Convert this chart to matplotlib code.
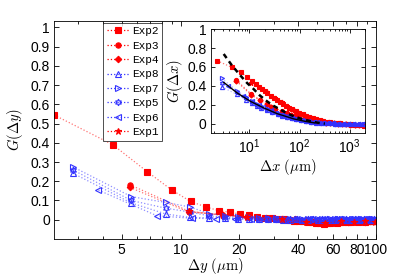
import matplotlib
matplotlib.use("Agg")
import matplotlib.pyplot as plt
from matplotlib.ticker import FixedLocator, NullFormatter, FixedFormatter, LogLocator

plt.rcParams['font.family'] = ['Liberation Sans', 'DejaVu Sans']
plt.rcParams['mathtext.fontset'] = 'cm'

# ---------------- main panel data ----------------
exp2_x = [2.25, 4.5, 6.75, 9.0, 11.25, 13.5, 15.75, 18.0, 20.25, 22.5, 24.75, 27.0, 29.25, 31.5,
          33.75, 36.0, 38.25, 40.5, 42.75, 45.0, 47.25, 49.5, 51.75, 54.0, 56.25, 58.5, 60.75, 63.0,
          65.25, 67.5, 69.75, 72.0, 74.25, 76.5, 78.75, 81.0, 83.25, 85.5, 87.75, 90.0, 92.25, 94.5,
          96.75, 99.0]
exp2_y = [0.545, 0.39, 0.25, 0.155, 0.095, 0.066, 0.047, 0.038, 0.030, 0.024, 0.016, 0.011, 0.007,
          0.004, 0.003, 0.000, -0.004, -0.006, -0.009, -0.012, -0.011, -0.015, -0.018, -0.020, -0.019,
          -0.017, -0.012, -0.015, -0.010, -0.012, -0.008, -0.011, -0.013, -0.008, -0.006, -0.010,
          -0.006, -0.009, -0.011, -0.004, -0.007, -0.009, -0.005, -0.004]
exp34_x = [5.5, 11, 16.5, 22, 27.5, 33, 38.5, 44, 49.5, 55, 60.5, 66, 71.5, 77, 82.5, 88, 93.5, 99]
exp3_y = [0.182, 0.045, 0.022, 0.012, 0.007, 0.003, 0.000, -0.006, -0.010, -0.016, -0.011, -0.008,
          -0.013, -0.006, -0.010, -0.005, -0.009, -0.007]
exp4_y = [0.168, 0.040, 0.026, 0.015, 0.010, 0.005, 0.002, -0.003, -0.008, -0.012, -0.014, -0.006,
          -0.010, -0.009, -0.007, -0.011, -0.004, -0.008]
exp1_x = [11, 22, 33, 44, 55, 66, 77, 88, 99]
exp1_y = [0.043, 0.013, 0.002, -0.011, -0.017, -0.009, -0.012, -0.008, -0.010]

blue_x = [2.8, 5.6, 8.4, 11.2, 14.0, 16.8, 19.6, 22.4, 25.2, 28.0, 30.8, 33.6, 36.4, 39.2, 42.0,
          44.8, 47.6, 50.4, 53.2, 56.0, 58.8, 61.6, 64.4, 67.2, 70.0, 72.8, 75.6, 78.4, 81.2, 84.0,
          86.8, 89.6, 92.4, 95.2, 98.0]
exp8_y = [0.243, 0.087, 0.030, 0.012, 0.010, 0.008, 0.006, 0.004, 0.005, 0.002, 0.003, 0.001, 0.000,
          0.002, -0.001, 0.001, 0.003, -0.002, 0.000, 0.002, -0.001, 0.001, 0.003, 0.000, -0.002,
          0.001, 0.002, -0.001, 0.000, 0.003, 0.001, -0.001, 0.002, 0.000, 0.001]
exp7_y = [0.276, 0.120, 0.090, 0.066, 0.032, 0.022, 0.016, 0.012, 0.010, 0.008, 0.007, 0.005, 0.006,
          0.004, 0.003, 0.005, 0.002, 0.004, 0.003, 0.001, 0.004, 0.002, 0.003, 0.005, 0.002, 0.001,
          0.004, 0.003, 0.002, 0.004, 0.001, 0.003, 0.005, 0.002, 0.003]
exp5_y = [0.260, 0.100, 0.060, 0.040, 0.020, 0.013, 0.009, 0.007, 0.006, 0.004, 0.005, 0.003, 0.002,
          0.004, 0.001, 0.003, 0.002, 0.000, 0.003, 0.002, 0.001, 0.004, 0.000, 0.002, 0.003, 0.001,
          0.000, 0.002, 0.004, 0.001, 0.002, 0.000, 0.003, 0.001, 0.002]
exp6_x = [3.8, 7.6, 11.4, 15.2, 19.0, 22.8, 26.6, 30.4, 34.2, 38.0, 41.8, 45.6, 49.4, 53.2, 57.0,
          60.8, 64.6, 68.4, 72.2, 76.0, 79.8, 83.6, 87.4, 91.2, 95.0, 98.8]
exp6_y = [0.154, 0.020, 0.008, 0.005, 0.004, 0.003, 0.002, 0.004, 0.001, 0.003, 0.000, 0.002, 0.001,
          0.003, 0.000, 0.002, 0.004, 0.001, 0.002, 0.000, 0.003, 0.001, 0.002, 0.004, 0.001, 0.002]

# ---------------- inset data ----------------
in_exp2_x = [2.25, 4.5, 6.75, 9.0, 11.25, 13.5, 15.75, 18.0, 20.25, 22.5, 27.0, 31.5, 36.0, 40.5,
             47.25, 54.0, 63.0, 72.0, 85.5, 99.0, 117.0, 135.0, 157.5, 184.5, 216.0, 252.0, 297.0,
             348.75, 407.25, 475.2, 555.75, 650.25, 760.5, 888.75, 1039.5, 1215.0, 1419.75, 1660.5,
             1941.75]
in_exp2_y = [0.667, 0.595, 0.545, 0.49, 0.45, 0.415, 0.39, 0.365, 0.345, 0.325, 0.295, 0.27, 0.25,
             0.232, 0.21, 0.19, 0.17, 0.152, 0.132, 0.115, 0.098, 0.083, 0.07, 0.057, 0.046, 0.037,
             0.029, 0.022, 0.016, 0.011, 0.007, 0.003, 0.0, -0.004, -0.007, -0.01, -0.013, -0.016,
             -0.02]
in_exp34_x = [5.5, 11, 16.5, 22, 27.5, 33, 44, 55, 66, 82.5, 99, 121, 148.5, 181.5, 220, 269.5, 330,
              401.5, 484, 588.5, 715, 858, 1034, 1254, 1518, 1848]
in_exp3_y = [0.46, 0.31, 0.25, 0.21, 0.18, 0.16, 0.13, 0.11, 0.095, 0.078, 0.065, 0.052, 0.04, 0.03,
             0.022, 0.016, 0.01, 0.006, 0.003, 0.0, -0.003, -0.006, -0.009, -0.012, -0.015, -0.018]
in_exp4_y = [0.45, 0.30, 0.245, 0.205, 0.178, 0.157, 0.128, 0.108, 0.092, 0.076, 0.063, 0.05, 0.039,
             0.029, 0.021, 0.015, 0.009, 0.005, 0.002, -0.001, -0.004, -0.007, -0.01, -0.013, -0.016,
             -0.019]
in_exp1_x = [11, 22, 33, 44, 55, 77, 99, 132, 176, 231, 297, 385, 495, 627, 792, 1001, 1265, 1606, 1991]
in_exp1_y = [0.43, 0.33, 0.27, 0.225, 0.19, 0.145, 0.115, 0.085, 0.06, 0.042, 0.029, 0.018, 0.01,
             0.004, 0.0, -0.005, -0.01, -0.014, -0.018]
in_blue_x = [2.8, 5.6, 8.4, 11.2, 14.0, 16.8, 22.4, 28.0, 36.4, 44.8, 56.0, 70.0, 86.8, 109.2, 134.4,
             168.0, 210.0, 263.2, 327.6, 411.6, 515.2, 644.0, 806.4, 1008.0, 1260.0, 1576.4, 1965.6]
in_exp7_y = [0.48, 0.35, 0.285, 0.24, 0.21, 0.19, 0.158, 0.135, 0.112, 0.094, 0.078, 0.063, 0.050,
             0.039, 0.030, 0.022, 0.015, 0.010, 0.006, 0.004, 0.002, 0.001, -0.001, -0.002, -0.003,
             -0.004, -0.005]
in_exp5_y = [0.43, 0.33, 0.27, 0.23, 0.20, 0.18, 0.15, 0.128, 0.106, 0.089, 0.073, 0.059, 0.047,
             0.036, 0.027, 0.020, 0.014, 0.009, 0.005, 0.003, 0.001, 0.000, -0.002, -0.003, -0.004,
             -0.005, -0.006]
in_exp8_y = [0.39, 0.31, 0.255, 0.22, 0.19, 0.17, 0.142, 0.12, 0.10, 0.084, 0.069, 0.055, 0.044,
             0.034, 0.025, 0.018, 0.012, 0.008, 0.004, 0.002, 0.000, -0.001, -0.003, -0.004, -0.005,
             -0.006, -0.007]
in_exp6_x = [3.8, 7.6, 11.4, 15.2, 19.0, 26.6, 34.2, 45.6, 57.0, 72.2, 91.2, 114.0, 144.4, 182.4,
             228.0, 288.8, 364.8, 460.0, 581.4, 733.4, 923.4, 1162.8, 1463.0, 1843.0]
in_exp6_y = [0.40, 0.29, 0.235, 0.20, 0.175, 0.14, 0.115, 0.092, 0.076, 0.06, 0.047, 0.036, 0.027,
             0.019, 0.013, 0.008, 0.005, 0.002, 0.000, -0.001, -0.002, -0.003, -0.004, -0.005]
fit_dash_x = [3.07, 4.5, 6.6, 9, 12.2, 16, 22.5, 30, 41.7, 56, 77, 110, 166, 230, 320]
fit_dash_y = [0.737, 0.615, 0.51, 0.43, 0.365, 0.30, 0.236, 0.19, 0.148, 0.11, 0.078, 0.05, 0.025,
              0.01, 0.0]
fit_solid_x = [3.07, 5.7, 10.5, 19.4, 35.7, 77, 130, 200]
fit_solid_y = [0.437, 0.325, 0.236, 0.166, 0.106, 0.05, 0.024, 0.008]

labels = ['Exp2', 'Exp3', 'Exp4', 'Exp8', 'Exp7', 'Exp5', 'Exp6', 'Exp1']
xticks_main = [5, 10, 20, 40, 60, 80, 100]
yticks_main = [0, 0.1, 0.2, 0.3, 0.4, 0.5, 0.6, 0.7, 0.8, 0.9, 1]
yticks_inset = [0, 0.2, 0.4, 0.6, 0.8, 1]

RED = '#ff0000'
BLUE = '#3333ff'
hexa = (6, 1, 0)

fig = plt.figure(figsize=(4.15, 2.75), dpi=100)
ax = fig.add_axes([0.130, 0.131, 0.776, 0.794])

line_kw = dict(linestyle=':', linewidth=0.9)


def series(a, x, y, color, marker, ms, filled, label=None, alpha_line=0.55):
    a.plot(x, y, color=color, alpha=alpha_line, **line_kw)
    a.plot(x, y, linestyle='none', marker=marker, markersize=ms,
           markerfacecolor=color if filled else 'none', markeredgecolor=color,
           markeredgewidth=0.8)
    if label is not None:
        a.plot([], [], color=color, linestyle=':', linewidth=0.9, marker=marker, markersize=ms,
               markerfacecolor=color if filled else 'none', markeredgecolor=color,
               markeredgewidth=0.8, label=label)


ms = 3.8
series(ax, exp2_x, exp2_y, RED, 's', ms, True, labels[0])
series(ax, exp34_x, exp3_y, RED, 'o', ms, True, labels[1])
series(ax, exp34_x, exp4_y, RED, 'D', 3.3, True, labels[2])
series(ax, blue_x, exp8_y, BLUE, '^', ms, False, labels[3])
series(ax, blue_x, exp7_y, BLUE, '>', ms, False, labels[4])
series(ax, blue_x, exp5_y, BLUE, hexa, 4.8, False, labels[5])
series(ax, exp6_x, exp6_y, BLUE, '<', ms, False, labels[6])
series(ax, exp1_x, exp1_y, RED, '*', 4.5, True, labels[7])

ax.set_xscale('log')
ax.set_xlim(2.25, 100)
ax.set_ylim(-0.1, 1.035)
ax.xaxis.set_major_locator(FixedLocator(xticks_main))
ax.xaxis.set_major_formatter(FixedFormatter([str(v) for v in xticks_main]))
ax.xaxis.set_minor_locator(FixedLocator([3, 4, 6, 7, 8, 9, 30, 50, 70, 90]))
ax.xaxis.set_minor_formatter(NullFormatter())
ax.set_yticks(yticks_main)
ax.set_yticklabels(['0', '0.1', '0.2', '0.3', '0.4', '0.5', '0.6', '0.7', '0.8', '0.9', '1'])
ax.tick_params(which='both', direction='in', top=True, right=True, labelsize=10, width=0.6)
ax.tick_params(which='major', length=3.5, pad=3)
ax.tick_params(which='minor', length=2)
for s in ax.spines.values():
    s.set_linewidth(0.6)
ax.set_xlabel(r'$\Delta y\ (\mu\mathrm{m})$', fontsize=10.5, labelpad=-1)
ax.set_ylabel(r'$G(\Delta y)$', fontsize=10.5, labelpad=4)

leg = ax.legend(loc='upper left', bbox_to_anchor=(0.153, 0.99), frameon=True, fancybox=False,
                prop={'family': 'Liberation Mono', 'size': 8}, handlelength=2.0,
                handletextpad=0.3, labelspacing=0.40, borderpad=0.3, borderaxespad=0)
leg.get_frame().set_edgecolor('black')
leg.get_frame().set_linewidth(0.6)

# ---------------- inset ----------------
ins = fig.add_axes([0.508, 0.516, 0.371, 0.378])
ims = 3
series(ins, in_exp2_x, in_exp2_y, RED, 's', ims, True)
series(ins, in_exp34_x, in_exp3_y, RED, 'o', ims, True)
series(ins, in_exp34_x, in_exp4_y, RED, 'D', 2.6, True)
series(ins, in_exp1_x, in_exp1_y, RED, '*', 3.5, True)
series(ins, in_blue_x, in_exp8_y, BLUE, '^', ims, False, alpha_line=0.35)
series(ins, in_blue_x, in_exp7_y, BLUE, '>', ims, False, alpha_line=0.35)
series(ins, in_blue_x, in_exp5_y, BLUE, hexa, 3.5, False, alpha_line=0.35)
series(ins, in_exp6_x, in_exp6_y, BLUE, '<', ims, False, alpha_line=0.35)
ins.plot(fit_dash_x, fit_dash_y, color='black', linestyle=(0, (2.0, 1.6)), linewidth=1.8)
ins.plot(fit_solid_x, fit_solid_y, color='black', linestyle='-', linewidth=1.0)

ins.set_xscale('log')
ins.set_xlim(1.7, 2000)
ins.set_ylim(-0.1, 1.0)
ins.xaxis.set_major_locator(FixedLocator([10, 100, 1000]))
ins.xaxis.set_major_formatter(FixedFormatter([r'$\mathregular{10^{1}}$', r'$\mathregular{10^{2}}$',
                                              r'$\mathregular{10^{3}}$']))
ins.xaxis.set_minor_locator(LogLocator(base=10, subs=range(2, 10)))
ins.xaxis.set_minor_formatter(NullFormatter())
ins.set_yticks(yticks_inset)
ins.set_yticklabels(['0', '0.2', '0.4', '0.6', '0.8', '1'])
ins.tick_params(which='both', direction='in', top=True, right=True, labelsize=10, width=0.6)
ins.tick_params(which='major', length=3, pad=3)
ins.tick_params(which='minor', length=1.5)
for s in ins.spines.values():
    s.set_linewidth(0.6)
ins.set_xlabel(r'$\Delta x\ (\mu\mathrm{m})$', fontsize=10.5, labelpad=1)
ins.set_ylabel(r'$G(\Delta x)$', fontsize=10.5, labelpad=2)

fig.savefig('out.png', dpi=100)
